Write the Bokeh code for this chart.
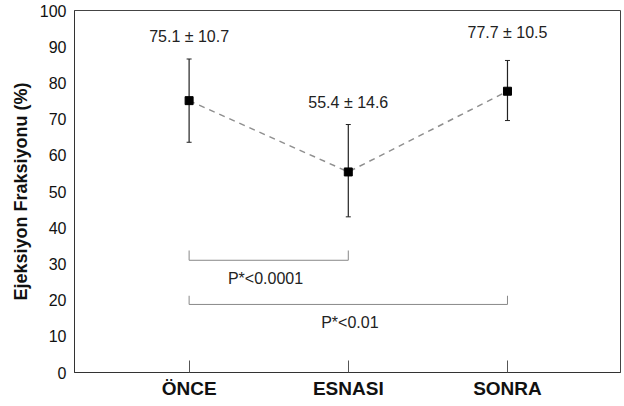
from bokeh.plotting import figure
from bokeh.models import Range1d, ColumnDataSource, Whisker, TeeHead, FixedTicker
from bokeh.core.properties import value
from bokeh.embed import file_html
from bokeh.resources import INLINE

categories = ["ÖNCE", "ESNASI", "SONRA"]
means = [75.1, 55.4, 77.7]
err_upper = [86.6, 68.5, 86.2]
err_lower = [63.6, 43.0, 69.6]
value_labels = ["75.1 \u00b1 10.7", "55.4 \u00b1 14.6", "77.7 \u00b1 10.5"]
label_y = [92.8, 74.6, 93.9]
p_labels = ["P*<0.0001", "P*<0.01"]
bracket_from = [0, 0]
bracket_to = [1, 2]
bracket_y = [31.0, 18.8]
bracket_tip = [33.7, 21.2]
p_label_x = [0.48, 1.01]
p_label_y = [26.0, 13.8]
y_ticks = list(range(0, 101, 10))

xs = list(range(len(categories)))
FONT = "Liberation Sans"

p = figure(width=622, height=404, output_backend="svg", toolbar_location=None,
           x_range=Range1d(-0.72, 2.71), y_range=Range1d(0, 100),
           min_border_left=74, min_border_top=10, min_border_right=2, min_border_bottom=32)
p.xgrid.visible = False
p.ygrid.visible = False
p.outline_line_color = "#444444"
p.outline_line_width = 1
p.background_fill_color = "white"

# axes
p.xaxis.ticker = FixedTicker(ticks=xs)
p.xaxis.major_label_overrides = {i: c for i, c in enumerate(categories)}
p.xaxis.major_tick_in = 12
p.xaxis.major_tick_out = 0
p.xaxis.minor_tick_line_color = None
p.xaxis.major_label_text_font = FONT
p.xaxis.major_label_text_font_style = "bold"
p.xaxis.major_label_text_font_size = "19px"
p.xaxis.major_label_text_color = "#111111"
p.xaxis.major_label_standoff = 5
p.xaxis.axis_line_color = "#333333"
p.xaxis.major_tick_line_color = "#555555"

p.yaxis.ticker = FixedTicker(ticks=y_ticks)
p.yaxis.major_tick_in = 0
p.yaxis.major_tick_out = 0
p.yaxis.minor_tick_line_color = None
p.yaxis.major_label_text_font = FONT
p.yaxis.major_label_text_font_size = "16px"
p.yaxis.major_label_text_color = "#111111"
p.yaxis.major_label_standoff = 8
p.yaxis.axis_line_color = "#333333"
p.yaxis.axis_label = "Ejeksiyon Fraksiyonu (%)"
p.yaxis.axis_label_text_font = FONT
p.yaxis.axis_label_text_font_style = "bold"
p.yaxis.axis_label_text_font_size = "18px"
p.yaxis.axis_label_text_color = "#111111"
p.yaxis.axis_label_standoff = 6

# dashed connecting line
p.line(xs, means, line_color="#8f8f8f", line_dash="6 5", line_width=1.5)

# error bars
src = ColumnDataSource(dict(x=xs, lo=err_lower, hi=err_upper, m=means))
w = Whisker(source=src, base="x", lower="lo", upper="hi", line_color="#222222", line_width=1.2,
            upper_head=TeeHead(size=5, line_color="#222222", line_width=1),
            lower_head=TeeHead(size=5, line_color="#222222", line_width=1))
p.add_layout(w)

p.scatter(xs, means, marker="square", size=8, fill_color="black", line_color="black")

# value labels
p.text(xs, label_y, text=value_labels, text_align="center", text_baseline="middle",
       text_font=value(FONT), text_font_size="16px", text_color="#222222")

# significance brackets
for x0, x1, yb, yt in zip(bracket_from, bracket_to, bracket_y, bracket_tip):
    p.segment(x0=[x0, x0, x1], y0=[yb, yb, yb], x1=[x1, x0, x1], y1=[yb, yt, yt],
              line_color="#888888", line_width=1)

p.text(p_label_x, p_label_y, text=p_labels, text_align="center", text_baseline="middle",
       text_font=value(FONT), text_font_size="16px", text_color="#222222")

open("out.html", "w").write(file_html(p, INLINE))
